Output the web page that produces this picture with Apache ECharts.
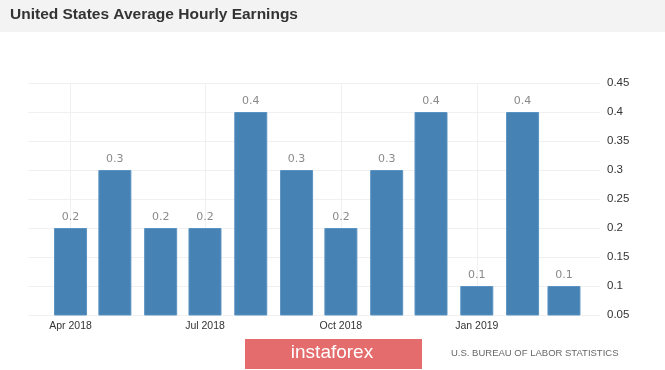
<!DOCTYPE html>
<html>
<head>
<meta charset="utf-8">
<script src="https://cdn.jsdelivr.net/npm/echarts@6/dist/echarts.min.js"></script>
<style>
html,body{margin:0;padding:0;background:#fff;}
#c{width:665px;height:370px;}
</style>
</head>
<body>
<div id="c"></div>
<script>
var months = ['2018-04','2018-05','2018-06','2018-07','2018-08','2018-09','2018-10','2018-11','2018-12','2019-01','2019-02','2019-03'];
var values = [0.2,0.3,0.2,0.2,0.4,0.3,0.2,0.3,0.4,0.1,0.4,0.1];
var tickMonths = ['2018-04','2018-07','2018-10','2019-01'];
var tickLabels = ['Apr 2018','Jul 2018','Oct 2018','Jan 2019'];

function ts(m){var p=m.split('-');return Date.UTC(+p[0],+p[1]-1,1);}
var tickTs = tickMonths.map(ts);
var data = months.map(function(m,i){return [ts(m), values[i]];});
var DAY = 86400000;

var chart = echarts.init(document.getElementById('c'), null, {renderer:'canvas'});
chart.setOption({
  animation:false,
  backgroundColor:'#ffffff',
  grid:{left:28,right:65,top:83,bottom:55},
  xAxis:{
    type:'value',
    min: ts('2018-04') - 28.8*DAY,
    max: ts('2019-03') + 24.4*DAY,
    axisLine:{show:false},
    axisTick:{show:false, customValues: tickTs},
    axisLabel:{
      customValues: tickTs,
      color:'#333',
      fontSize:10.5,
      fontFamily:'Liberation Sans, Arial, sans-serif',
      margin:6,
      formatter:function(v){var i=tickTs.indexOf(v);return i>=0?tickLabels[i]:'';}
    },
    splitLine:{show:true,lineStyle:{color:'#f0f0f0',width:1}}
  },
  yAxis:{
    type:'value',
    position:'right',
    min:0.05,
    max:0.45,
    interval:0.05,
    axisLine:{show:false},
    axisTick:{show:false},
    axisLabel:{
      color:'#333',
      fontSize:11.5,
      fontFamily:'Liberation Sans, Arial, sans-serif',
      margin:7,
      formatter:function(v){return String(+v.toFixed(2));}
    },
    splitLine:{show:true,lineStyle:{color:'#f0f0f0',width:1}}
  },
  series:[{
    type:'bar',
    data:data,
    barWidth:33,
    clip:true,
    itemStyle:{color:'#4682b4',borderColor:'#5a93c2',borderWidth:1},
    label:{
      show:true,
      position:'top',
      distance:5,
      color:'#8a8a8a',
      fontSize:11,
      fontFamily:'DejaVu Sans, sans-serif',
      formatter:function(p){return String(p.value[1]);}
    }
  }],
  graphic:[
    {type:'rect',left:0,top:0,shape:{width:665,height:32},style:{fill:'#f3f3f3'},z:-10},
    {type:'text',left:10,top:7,style:{text:'United States Average Hourly Earnings',fill:'#333',font:'bold 15.5px "Liberation Sans", Arial, sans-serif'}},
    {type:'rect',left:245,top:339,shape:{width:177,height:30},style:{fill:'#e46c6c'}},
    {type:'text',x:332,y:353,style:{text:'instaforex',fill:'#fff',font:'19px "Liberation Sans", Arial, sans-serif',textAlign:'center',textVerticalAlign:'middle'}},
    {type:'text',x:451,y:353,style:{text:'U.S. BUREAU OF LABOR STATISTICS',fill:'#666',font:'9.5px "Liberation Sans", Arial, sans-serif',textAlign:'left',textVerticalAlign:'middle'}}
  ]
});
</script>
</body>
</html>
